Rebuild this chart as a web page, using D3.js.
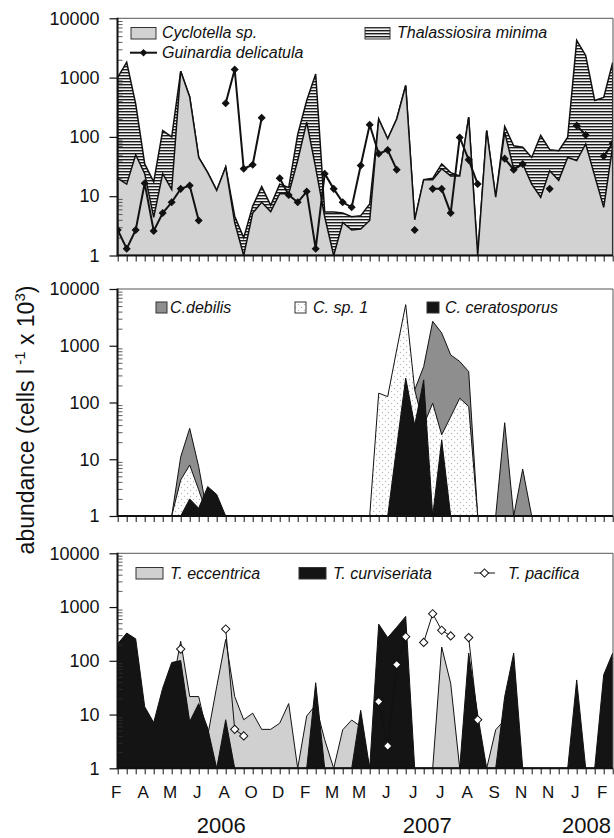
<!DOCTYPE html>
<html>
<head>
<meta charset="utf-8">
<script src="https://cdn.jsdelivr.net/npm/d3@7"></script>
<style>
body { margin: 0; background: #fff; }
text { font-family: Arial, "Liberation Sans", Helvetica, sans-serif; fill: #111; }
</style>
</head>
<body>
<script>
//sampling dates, roughly fortnightly, Feb 2006 - Feb 2008
var samples = d3.range(56);
var monthLabels = ["F","A","M","J","A","O","D","F","M","M","J","J","J","A","S","N","N","J","F"];
var monthIndex = [0,3,6,9,12,15,18,21,24,27,30,33,36,39,42,45,48,51,54];
var yearLabels = ["2006","2007","2008"];
var yearIndex = [11.5, 34.4, 52.1];
var yTicks = [1, 10, 100, 1000, 10000];

//top panel (cells l-1 x 10^3)
var cyclotella = [20,16,50,24,4.4,24,13,1280,470,45,25,12.5,31,3.6,1,5.2,7.9,5.5,11,11,40,177,30,4.5,1,3.6,2.7,2.8,3.9,200,93,200,735,4,19,19,29,22,22,215,1,128,9.6,120,29,35,16,9.6,27,18.5,45,40,76,22,6.5,70];
var thalassiosira = [990,1800,310,11,13,104,87,0,0,0,0,0,0,1,1,1.6,6.6,1.5,5,3,70,233,1120,0.9,4.4,1.6,1.8,1.9,3.5,0,0,0,0,0,0,1,6,3,0,0,0,0,0,30,42,32,29,96,34,40,54,4200,2284,389,458,1730];
var guinardia = [2.7,1.3,2.7,16.5,2.6,5.2,7.9,13.3,15.1,3.9,null,null,370,1370,29,34,210,null,20,10.5,7.9,12,1.3,24,13.3,7.9,6.5,33,160,52,60,28,null,2.7,null,13.3,13.3,5.2,98,41,16,null,null,43,28,35,null,null,13.3,null,null,155,108,null,47,78];

//middle panel
var cDebilis = [0,0,0,0,0,0,0,11,35,7.4,0,0,0,0,0,0,0,0,0,0,0,0,0,0,0,0,0,0,0,0,0,0,0,167,430,2690,1680,690,530,350,0,0,0,44,0,6.7,0,0,0,0,0,0,0,0,0,0];
var cSp1 = [0,0,0,0,0,0,0,4.3,7.9,2.9,0,0,0,0,0,0,0,0,0,0,0,0,0,0,0,0,0,0,0,146,127,850,5300,167,40,97,27,56,119,85,0,0,0,0,0,0,0,0,0,0,0,0,0,0,0,0];
var cCeratosporus = [0,0,0,0,0,0,0,0,2.0,1.37,3.3,2.4,0,0,0,0,0,0,0,0,0,0,0,0,0,0,0,0,0,0,0,16.5,270,40,250,0,22,0,0,0,0,0,0,0,0,0,0,0,0,0,0,0,0,0,0,0];

//bottom panel
var tEccentrica = [0,0,0,0,0,0,30,230,21.6,21.6,4,33,250,21.6,8,10.6,5.3,5.3,6.9,16,0,9.4,15,3.4,0,5.2,7.9,6,0,0,0,0,0,0,0,0,180,38,0,0,0,0,5.2,8,0,0,0,0,0,0,0,0,0,0,0,0];
var tCurviseriata = [207,328,256,14,7.1,31,93,101,7.4,16,5.6,0,8,0,0,0,0,0,0,0,0,0,39,0,0,0,0,12,0,480,270,420,670,0,0,0,0,0,0,139,10,0,0,21.6,139,0,0,0,0,0,0,44,0,0,55,139];
var tPacifica = [null,null,null,null,null,null,null,165,null,null,null,null,390,5.3,4.0,null,null,null,null,null,null,null,null,null,null,null,null,null,null,17.4,2.6,85,280,null,220,750,370,290,null,270,8,null,null,null,null,null,null,null,null,null,null,null,null,null,null,null];

var left = 117.5, right = 613;
var panels = [
    {top: 18.3, bottom: 255.5},
    {top: 289, bottom: 516},
    {top: 553.3, bottom: 768.3}
];

var svg = d3.select("body").append("svg")
    .attr("width", 614)
    .attr("height", 838);

var x = d3.scaleLinear().domain([0, 55]).range([117.7, 612.7]);

//fill patterns
var defs = svg.append("defs");
var hatch = defs.append("pattern").attr("id", "hatch")
    .attr("patternUnits", "userSpaceOnUse").attr("width", 6).attr("height", 3);
hatch.append("rect").attr("width", 6).attr("height", 3).attr("fill", "#f4f4f4");
hatch.append("rect").attr("width", 6).attr("height", 1.4).attr("fill", "#1c1c1c");

var dots = defs.append("pattern").attr("id", "dots")
    .attr("patternUnits", "userSpaceOnUse").attr("width", 6).attr("height", 6);
dots.append("rect").attr("width", 6).attr("height", 6).attr("fill", "#fff");
dots.append("circle").attr("cx", 1.5).attr("cy", 1.5).attr("r", 0.7).attr("fill", "#b8b8b8");
dots.append("circle").attr("cx", 4.5).attr("cy", 4.5).attr("r", 0.7).attr("fill", "#b8b8b8");

panels.forEach(function(p, k){
    p.y = d3.scaleLog().domain([1, 10000]).range([p.bottom, p.top]);
    defs.append("clipPath").attr("id", "clip" + k)
        .append("rect")
        .attr("x", left).attr("y", p.top - 2)
        .attr("width", right - left).attr("height", p.bottom - p.top + 2);
    p.g = svg.append("g").attr("clip-path", "url(#clip" + k + ")");
});

function drawArea(p, values, fill, width){
    var area = d3.area()
        .x(function(d, i){ return x(i); })
        .y0(p.bottom)
        .y1(function(d){ return p.y(Math.max(d, 1)); });
    p.g.append("path")
        .datum(values)
        .attr("d", area)
        .attr("fill", fill)
        .attr("stroke", "#111")
        .attr("stroke-width", width)
        .attr("stroke-linejoin", "miter");
}

function drawMarkers(p, values, fill, lineWidth, size){
    var line = d3.line()
        .defined(function(d){ return d != null; })
        .x(function(d, i){ return x(i); })
        .y(function(d){ return p.y(d); });
    p.g.append("path")
        .datum(values)
        .attr("d", line)
        .attr("fill", "none")
        .attr("stroke", "#111")
        .attr("stroke-width", lineWidth);
    var pts = values.map(function(d, i){ return {i: i, v: d}; })
        .filter(function(d){ return d.v != null; });
    p.g.selectAll(null)
        .data(pts)
        .enter()
        .append("path")
        .attr("d", d3.symbol(d3.symbolSquare, size))
        .attr("transform", function(d){
            return "translate(" + x(d.i) + "," + p.y(d.v) + ") rotate(45)";
        })
        .attr("fill", fill)
        .attr("stroke", "#111")
        .attr("stroke-width", 1);
}

//top panel: stacked Cyclotella + Thalassiosira, Guinardia line
var p0 = panels[0];
var totalTop = cyclotella.map(function(c, i){ return c + thalassiosira[i]; });
drawArea(p0, totalTop, "url(#hatch)", 1.5);
drawArea(p0, cyclotella, "#d2d2d2", 1.5);
drawMarkers(p0, guinardia, "#111", 2, 22);

//middle panel: Chaetoceros
var p1 = panels[1];
drawArea(p1, cDebilis, "#8e8e8e", 1);
drawArea(p1, cSp1, "url(#dots)", 1);
drawArea(p1, cCeratosporus, "#141414", 1);

//bottom panel: Thalassiosira spp.
var p2 = panels[2];
drawArea(p2, tEccentrica, "#d0d0d0", 1);
drawArea(p2, tCurviseriata, "#141414", 1);
drawMarkers(p2, tPacifica, "#fff", 1, 34);

//axes and frames
var minorTicks = [];
[1, 10, 100, 1000].forEach(function(d){
    d3.range(2, 10).forEach(function(m){ minorTicks.push(d * m); });
});

panels.forEach(function(p, k){
    var ax = svg.append("g");

    ax.append("g")
        .attr("transform", "translate(" + left + ",0)")
        .call(d3.axisLeft(p.y).tickValues(yTicks).tickFormat(d3.format("d")).tickSize(8).tickPadding(10))
        .attr("font-size", 18)
        .attr("font-family", "Arial, 'Liberation Sans', sans-serif")
        .call(function(g){ g.select(".domain").remove(); })
        .call(function(g){ g.selectAll("line").attr("stroke", "#111").attr("stroke-width", 1.2); });

    ax.append("g")
        .attr("transform", "translate(" + left + ",0)")
        .call(d3.axisLeft(p.y).tickValues(minorTicks).tickFormat("").tickSize(-5))
        .call(function(g){ g.select(".domain").remove(); })
        .call(function(g){ g.selectAll("line").attr("stroke", "#333").attr("stroke-width", 0.8); });

    ax.append("g")
        .attr("transform", "translate(0," + p.bottom + ")")
        .call(d3.axisBottom(x).tickValues(samples).tickFormat("").tickSize(6))
        .call(function(g){ g.select(".domain").remove(); })
        .call(function(g){ g.selectAll("line").attr("stroke", "#111").attr("stroke-width", 1); });

    //frame
    ax.append("path")
        .attr("d", "M" + left + "," + p.top + "H" + right + "V" + p.bottom)
        .attr("fill", "none")
        .attr("stroke", "#555")
        .attr("stroke-width", 1);
    ax.append("path")
        .attr("d", "M" + left + "," + (p.top - 0.5) + "V" + p.bottom + "H" + right)
        .attr("fill", "none")
        .attr("stroke", "#111")
        .attr("stroke-width", 2);
});

//month and year labels
svg.selectAll(".month")
    .data(monthLabels)
    .enter()
    .append("text")
    .attr("class", "month")
    .attr("x", function(d, i){ return x(monthIndex[i]) - 1.5; })
    .attr("y", 798)
    .attr("text-anchor", "middle")
    .attr("font-size", 17)
    .text(function(d){ return d; });

svg.selectAll(".year")
    .data(yearLabels)
    .enter()
    .append("text")
    .attr("class", "year")
    .attr("x", function(d, i){ return x(yearIndex[i]); })
    .attr("y", 832.5)
    .attr("text-anchor", "middle")
    .attr("font-size", 22)
    .text(function(d){ return d; });

//y title
var title = svg.append("text")
    .attr("transform", "translate(34,420) rotate(-90)")
    .attr("text-anchor", "middle")
    .attr("font-size", 23);
title.append("tspan").text("abundance (cells l");
title.append("tspan").attr("dy", -9).attr("font-size", 15).text(" -1");
title.append("tspan").attr("dy", 9).text(" x 10");
title.append("tspan").attr("dy", -9).attr("font-size", 15).text("3");
title.append("tspan").attr("dy", 9).text(")");

//legends
function legendRect(xp, yp, w, h, fill){
    svg.append("rect")
        .attr("x", xp).attr("y", yp).attr("width", w).attr("height", h)
        .attr("fill", fill).attr("stroke", "#333").attr("stroke-width", 1);
}
function legendText(xp, yp, label){
    svg.append("text")
        .attr("x", xp).attr("y", yp)
        .attr("font-size", 16)
        .attr("font-style", "italic")
        .text(label);
}
function legendLine(x1, x2, yp, fill, size){
    svg.append("line")
        .attr("x1", x1).attr("x2", x2).attr("y1", yp).attr("y2", yp)
        .attr("stroke", "#111").attr("stroke-width", size > 30 ? 1 : 2);
    svg.append("path")
        .attr("d", d3.symbol(d3.symbolSquare, size))
        .attr("transform", "translate(" + (x1 + x2) / 2 + "," + yp + ") rotate(45)")
        .attr("fill", fill).attr("stroke", "#111");
}

legendRect(131, 27.5, 25, 11.5, "#d2d2d2");
legendText(162, 38.3, "Cyclotella sp.");
legendLine(130, 157, 52.7, "#111", 18);
legendText(162, 58.3, "Guinardia delicatula");
legendRect(365, 27.5, 25, 11.5, "url(#hatch)");
legendText(397, 38.3, "Thalassiosira minima");

legendRect(156, 302, 11, 11, "#8e8e8e");
legendText(170, 313.3, "C.debilis");
legendRect(295, 302, 11, 11, "url(#dots)");
legendText(313, 313.3, "C. sp. 1");
legendRect(427, 302, 12, 11, "#141414");
legendText(445, 313.3, "C. ceratosporus");

legendRect(136, 567.5, 27, 11.5, "#d0d0d0");
legendText(170, 579, "T. eccentrica");
legendRect(299, 567.5, 27, 11.5, "#141414");
legendText(333, 579, "T. curviseriata");
legendLine(474, 495, 573, "#fff", 34);
legendText(508, 579, "T. pacifica");
</script>
</body>
</html>
